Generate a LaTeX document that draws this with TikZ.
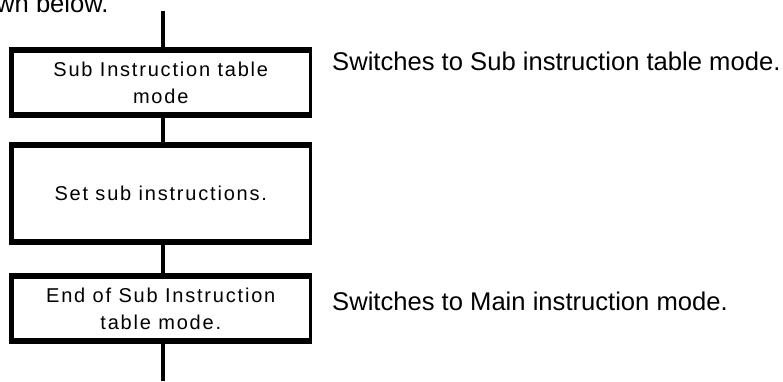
\documentclass[tikz,border=0pt]{standalone}
\usepackage{fontspec}
\setmainfont{Liberation Sans}
\newfontfamily\boxfont[LetterSpace=9]{Liberation Sans}
\begin{document}
\begin{tikzpicture}[x=1pt,y=-1pt,
  stepbox/.style={minimum width=298.5pt,inner sep=0pt,align=center,
    font=\boxfont\fontsize{20}{27}\selectfont},
  hline/.style={line width=6pt},
  lline/.style={line width=5pt},
  rline/.style={line width=3pt},
  conn/.style={line width=4.5pt},
  note/.style={font=\fontsize{25.6}{30}\selectfont,anchor=west,inner sep=0pt}]
\useasboundingbox (0,0) rectangle (783,381);
\clip (0,0) rectangle (783,381);
\node[anchor=base west,inner sep=0pt,font=\fontsize{25.6}{30}\selectfont] (prev) at (-4,12) {wn below.};
\node[stepbox,minimum height=65pt] (b1) at (160.75,82.5) {Sub Instruction table\\mode};
\node[stepbox,minimum height=97pt] (b2) at (160.75,193.5) {\raisebox{-3pt}{Set sub instructions.}};
\node[stepbox,minimum height=65pt] (b3) at (160.75,308.5) {End of Sub Instruction\\table mode.};
\foreach \b in {b1,b2,b3}{
  \draw[hline] ([xshift=-2.5pt]\b.north west) -- ([xshift=1.5pt]\b.north east);
  \draw[hline] ([xshift=-2.5pt]\b.south west) -- ([xshift=1.5pt]\b.south east);
  \draw[lline] (\b.north west) -- (\b.south west);
  \draw[rline] (\b.north east) -- (\b.south east);
}
\coordinate (top) at (163,11);
\coordinate (bot) at (163,381);
\draw[conn] (top) -- (b1.north -| top);
\draw[conn] (b1.south -| top) -- (b2.north -| top);
\draw[conn] (b2.south -| top) -- (b3.north -| top);
\draw[conn] (b3.south -| top) -- (bot);
\node[note] (n1) at (332,61) {Switches to Sub instruction table mode.};
\node[note] (n3) at (332,301) {Switches to Main instruction mode.};
\end{tikzpicture}
\end{document}
